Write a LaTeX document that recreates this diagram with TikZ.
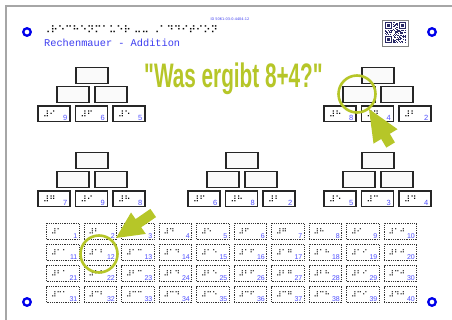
\documentclass[tikz,border=0pt]{standalone}
\usepackage{graphicx}
\usepackage{fontspec}
\setmainfont{DejaVu Sans}
\newfontfamily\brl{DejaVu Sans}
\newfontfamily\monof{Liberation Mono}
\newfontfamily\titlef{Liberation Sans}
\definecolor{lime}{RGB}{182,198,40}
\definecolor{ringblue}{RGB}{0,0,235}
\definecolor{txtblue}{RGB}{60,60,240}
\definecolor{numblue}{RGB}{80,80,255}
\definecolor{qrnavy}{RGB}{40,40,100}
\newcommand\bd[1]{\ifcase#1 ⠚\or ⠁\or ⠃\or ⠉\or ⠙\or ⠑\or ⠋\or ⠛\or ⠓\or ⠊\fi}
\newcommand\mauer[9]{%
  \node[brick] (#1t) at (#2+38,#3) {};
  \node[brick] (#1l) at (#2+19,#3+19) {};
  \node[brick] (#1r) at (#2+57,#3+19) {};
  \node[brlbox] (#1a) at (#2,#3+38.5) {};
  \node[brlbox] (#1b) at (#2+37.5,#3+38.5) {};
  \node[brlbox] (#1c) at (#2+75,#3+38.5) {};
  \node[dots] (#1ad) at ([xshift=6pt]#1a.west) {⠼#4};
  \node[dots] (#1bd) at ([xshift=6pt]#1b.west) {⠼#5};
  \node[dots] (#1cd) at ([xshift=6pt]#1c.west) {⠼#6};
  \node[num] (#1an) at ([xshift=-3pt,yshift=2pt]#1a.south east) {#7};
  \node[num] (#1bn) at ([xshift=-3pt,yshift=2pt]#1b.south east) {#8};
  \node[num] (#1cn) at ([xshift=-3pt,yshift=2pt]#1c.south east) {#9};
}
\begin{document}
\begin{tikzpicture}[x=1pt,y=-1pt,
  brick/.style={draw=black!85, fill=gray!4, line width=1.5pt, minimum width=32pt, minimum height=16pt, inner sep=0pt, anchor=north west},
  brlbox/.style={draw=black!85, fill=white, line width=1.5pt, minimum width=32pt, minimum height=15.5pt, inner sep=0pt, anchor=north west},
  cell/.style={draw=black!80, dash pattern=on 0.9pt off 0.9pt, line width=1pt, minimum width=32.5pt, minimum height=16pt, inner sep=0pt, anchor=north west},
  dots/.style={font=\brl\fontsize{8.5}{8.5}\selectfont, inner sep=0pt, anchor=west},
  gdots/.style={font=\brl\fontsize{7.5}{7.5}\selectfont, inner sep=0pt, anchor=west},
  num/.style={font=\titlef\fontsize{7.5}{7.5}\selectfont, text=numblue, inner sep=0pt, anchor=south east},
  gnum/.style={font=\titlef\fontsize{7}{7}\selectfont, text=numblue, inner sep=0pt, anchor=south east},
  ring/.style={draw=ringblue, line width=2.3pt, circle, minimum size=7.5pt, inner sep=0pt},
  hilite/.style={draw=lime, line width=2.6pt, circle, minimum size=37pt, inner sep=0pt}]
\useasboundingbox (0,0) rectangle (452,320);
\fill[white] (0,0) rectangle (452,320);
\draw[gray!70, line width=1.5pt] (6,320) -- (6,6) -- (452,6);
% rings
\node[ring] (r1) at (27,32) {};
\node[ring] (r2) at (432,32) {};
\node[ring] (r3) at (27,302) {};
\node[ring] (r4) at (432,302) {};
% header
\node[font=\brl\fontsize{10}{10}\selectfont, anchor=west, inner sep=0pt] (hb) at (43,30) {⠠⠗⠑⠉⠓⠑⠝⠍⠁⠥⠑⠗ ⠤⠤ ⠠⠁⠙⠙⠊⠞⠊⠕⠝};
\node[font=\monof\fontsize{10.3}{12}\selectfont, text=txtblue, anchor=base west, inner sep=0pt] (ttl) at (44,47) {Rechenmauer - Addition};
\node[font=\fontsize{3.5}{4}\selectfont, text=txtblue, inner sep=0pt] (id) at (230,19) {ID 5061-03-0-4404-12};
% QR
\node[draw=gray, line width=0.8pt, minimum size=26pt, fill=white, anchor=north west, inner sep=0pt] (qr) at (382,20) {};
\begin{scope}[shift={(384.5,22.5)}]
  \pgfmathsetseed{7}
  \foreach \i in {0,...,20}{\foreach \j in {0,...,20}{
    \pgfmathtruncatemacro\q{((\i<8 && \j<8) || (\i>12 && \j<8) || (\i<8 && \j>12)) ? 0 : (rnd>0.5 ? 1 : 0)}
    \ifnum\q=1 \fill[qrnavy] (\i,\j) rectangle ++(1,1);\fi
  }}
  \foreach \a/\b in {0/0,14/0,0/14}{
    \draw[qrnavy, line width=1pt] (\a+0.5,\b+0.5) rectangle ++(6,6);
    \fill[qrnavy] (\a+2,\b+2) rectangle ++(3,3);
  }
\end{scope}
% title
\node[text=lime, font=\titlef\bfseries\fontsize{34}{34}\selectfont, inner sep=0pt, anchor=base] (q) at (233.5,88) {\scalebox{0.61}[1]{"Was ergibt 8+4?"}};
% pyramids
\mauer{pa}{37}{67}{⠊}{⠋}{⠑}{9}{6}{5}
\mauer{pb}{323}{67}{⠓}{⠙}{⠃}{8}{4}{2}
\mauer{pc}{37}{152}{⠛}{⠊}{⠓}{7}{9}{8}
\mauer{pd}{187}{152}{⠋}{⠓}{⠃}{6}{8}{2}
\mauer{pe}{323}{152}{⠑}{⠉}{⠙}{5}{3}{4}
% grid
\foreach \r in {0,...,3}{\foreach \c in {0,...,9}{
  \pgfmathtruncatemacro\n{10*\r+\c+1}
  \pgfmathtruncatemacro\tn{int(\n/10)}
  \pgfmathtruncatemacro\on{mod(\n,10)}
  \node[cell] (g\n) at (46+37.5*\c,223+21*\r) {};
  \node[gdots] (g\n d) at ([xshift=5pt]g\n.west) {⠼\ifnum\tn>0 \bd{\tn}\fi\bd{\on}};
  \node[gnum] (g\n n) at ([xshift=-2pt,yshift=1.5pt]g\n.south east) {\n};
}}
% highlights
\node[hilite] (c1) at (357,94) {};
\node[hilite] (c2) at (99,254) {};
\fill[lime] (369,109) -- (397.5,129.2) -- (389.8,133.8) -- (394.9,142.4) -- (386.3,147.6) -- (381.2,139.0) -- (373.5,143.6) -- cycle;
\fill[lime] (116,238) -- (131.0,212.5) -- (135.6,219.1) -- (150.4,208.9) -- (156.0,217.1) -- (141.2,227.3) -- (145.8,233.9) -- cycle;
\end{tikzpicture}
\end{document}
